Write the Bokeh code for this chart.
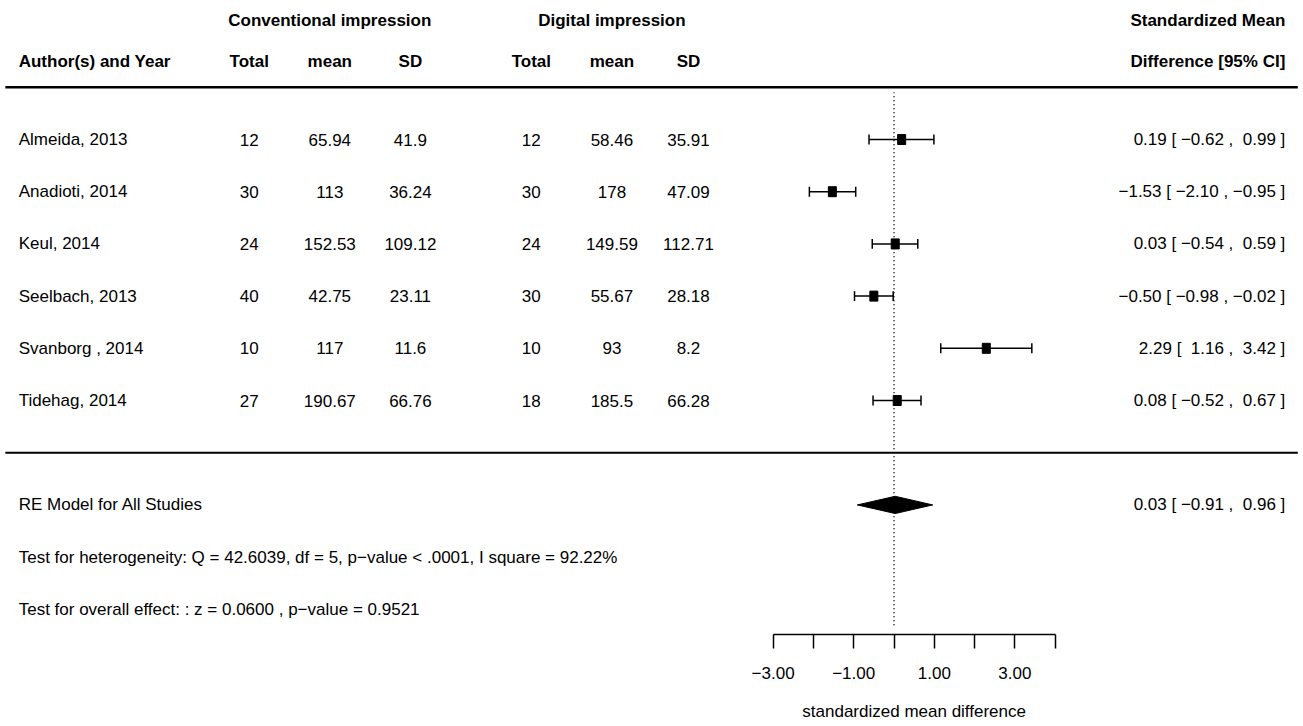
from bokeh.plotting import figure
from bokeh.models import Range1d, LinearAxis, FixedTicker, ColumnDataSource
from bokeh.core.properties import value
from bokeh.embed import file_html
from bokeh.resources import INLINE

# ---------------- data ----------------
studies = ["Almeida, 2013", "Anadioti, 2014", "Keul, 2014", "Seelbach, 2013",
           "Svanborg , 2014", "Tidehag, 2014"]
conv_total = [12, 30, 24, 40, 10, 27]
conv_mean = [65.94, 113, 152.53, 42.75, 117, 190.67]
conv_sd = [41.9, 36.24, 109.12, 23.11, 11.6, 66.76]
dig_total = [12, 30, 24, 30, 10, 18]
dig_mean = [58.46, 178, 149.59, 55.67, 93, 185.5]
dig_sd = [35.91, 47.09, 112.71, 28.18, 8.2, 66.28]
smd = [0.19, -1.53, 0.03, -0.50, 2.29, 0.08]
ci_lo = [-0.62, -2.10, -0.54, -0.98, 1.16, -0.52]
ci_hi = [0.99, -0.95, 0.59, -0.02, 3.42, 0.67]
re_est, re_lo, re_hi = 0.03, -0.91, 0.96
het_text = "Test for heterogeneity: Q = 42.6039, df = 5, p\u2212value < .0001, I square = 92.22%"
overall_text = "Test for overall effect: : z = 0.0600 , p\u2212value = 0.9521"
axis_title = "standardized mean difference"
axis_ticks = [-3, -2, -1, 0, 1, 2, 3, 4]
axis_labels = {-3: "\u22123.00", -2: "", -1: "\u22121.00", 0: "", 1: "1.00", 2: "", 3: "3.00", 4: ""}

FONT = "Liberation Sans"
FS = "17px"
NB = "\u00a0"


def mfmt(v):
    return f"{v:g}"


def nfmt(v, w=5):
    return f"{v:{w}.2f}".replace("-", "\u2212").replace(" ", NB)


def ci_text(e, lo, hi):
    return f"{nfmt(e, 0)} [{NB}{nfmt(lo)} ,{NB}{nfmt(hi)}{NB}]"


k = len(studies)
rows = list(range(k, 0, -1))

# layout positions (data units)
X_LEFT = -21.72
X_RIGHT = 9.71
col_x = [-16, -14, -12, -9, -7, -5.1]
AXIS_Y = -3.483
TITLE_Y = -4.958

p = figure(width=1303, height=726,
           x_range=Range1d(-22.171, 10.161), y_range=Range1d(-5.245, 8.663),
           output_backend="svg", toolbar_location=None,
           x_axis_type=None, y_axis_type=None,
           min_border_left=0, min_border_right=0, min_border_top=0, min_border_bottom=0)
p.outline_line_color = None
p.background_fill_color = "white"
p.border_fill_color = "white"


def txt(x, y, t, align="left", bold=False):
    src = ColumnDataSource(dict(x=x, y=y, t=t))
    p.text(x="x", y="y", text="t", source=src, text_font=value(FONT),
           text_font_size=FS, text_align=align, text_baseline="middle",
           text_color="black", text_font_style="bold" if bold else "normal")


# header
txt([-14, -7], [8.28, 8.28], ["Conventional impression", "Digital impression"], "center", True)
txt([X_LEFT], [7.5], ["Author(s) and Year"], "left", True)
txt(col_x, [7.5] * 6, ["Total", "mean", "SD", "Total", "mean", "SD"], "center", True)
txt([X_RIGHT, X_RIGHT], [8.28, 7.5], ["Standardized Mean", "Difference [95% CI]"], "right", True)

# horizontal rules
p.segment(x0=[-22.05], x1=[10.02], y0=[k + 1], y1=[k + 1], line_color="black", line_width=2.5)
p.segment(x0=[-22.05], x1=[10.02], y0=[0], y1=[0], line_color="black", line_width=2)

# reference line
p.segment(x0=[0], y0=[AXIS_Y + 0.18], x1=[0], y1=[k + 0.9], line_color="black",
          line_width=1.5, line_dash="1 3")

# study rows
txt([X_LEFT] * k, rows, studies, "left")
for cx, vals in zip(col_x, [conv_total, conv_mean, conv_sd, dig_total, dig_mean, dig_sd]):
    txt([cx] * k, rows, [mfmt(v) for v in vals], "center")
txt([X_RIGHT] * k, rows, [ci_text(e, l, h) for e, l, h in zip(smd, ci_lo, ci_hi)], "right")

# CIs
p.segment(x0=ci_lo, x1=ci_hi, y0=rows, y1=rows, line_color="black", line_width=1.5)
cap = 0.095
p.segment(x0=ci_lo, x1=ci_lo, y0=[r - cap for r in rows], y1=[r + cap for r in rows],
          line_color="black", line_width=1.5)
p.segment(x0=ci_hi, x1=ci_hi, y0=[r - cap for r in rows], y1=[r + cap for r in rows],
          line_color="black", line_width=1.5)
p.rect(x=smd, y=rows, width=8, height=10, width_units="screen", height_units="screen",
       fill_color="black", line_color="black")

# summary
dh = 0.165
p.patch(x=[re_lo, re_est, re_hi, re_est], y=[-1, -1 + dh, -1, -1 - dh],
        fill_color="black", line_color="black")
txt([X_LEFT], [-1], ["RE Model for All Studies"], "left")
txt([X_RIGHT], [-1], [ci_text(re_est, re_lo, re_hi)], "right")
txt([X_LEFT], [-2], [het_text], "left")
txt([X_LEFT], [-3], [overall_text], "left")

# x axis, drawn at a fixed location inside the frame
ax = LinearAxis(ticker=FixedTicker(ticks=axis_ticks), bounds=(axis_ticks[0], axis_ticks[-1]),
                major_label_overrides=axis_labels, fixed_location=AXIS_Y)
ax.axis_line_width = 1.5
ax.major_tick_line_width = 1.5
ax.major_tick_out = 14
ax.major_tick_in = 0
ax.minor_tick_out = 0
ax.minor_tick_in = 0
ax.major_label_text_font = FONT
ax.major_label_text_font_size = FS
ax.major_label_text_color = "black"
ax.major_label_standoff = 18
p.add_layout(ax, "below")

# axis title centred under the axis
txt([(axis_ticks[0] + axis_ticks[-1]) / 2], [TITLE_Y], [axis_title], "center")

open("out.html", "w").write(file_html(p, INLINE))
